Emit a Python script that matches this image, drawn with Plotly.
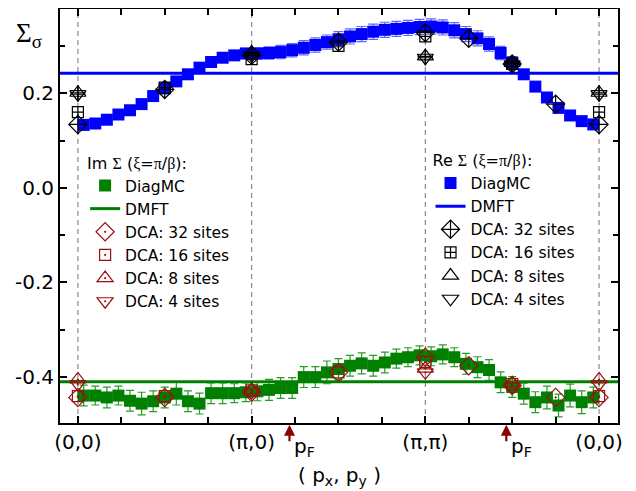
import plotly.graph_objects as go

# ---------------- data ----------------
path_ticks = [0, 1, 2, 3]
path_labels = ["(0,0)", "(\u03c0,0)", "(\u03c0,\u03c0)", "(0,0)"]

N_SEG = 15  # DiagMC momenta per path segment
diag_x = [s + (k - 0.5) / N_SEG for s in range(3) for k in range(1, N_SEG + 1)]

re_diag = [0.133, 0.136, 0.144, 0.155, 0.164, 0.177, 0.194, 0.210, 0.225, 0.240, 0.254, 0.266, 0.275, 0.280, 0.284,
           0.284, 0.285, 0.287, 0.291, 0.296, 0.302, 0.308, 0.314, 0.320, 0.325, 0.330, 0.334, 0.336, 0.338, 0.340,
           0.341, 0.339, 0.333, 0.325, 0.316, 0.304, 0.285, 0.265, 0.240, 0.214, 0.191, 0.169, 0.153, 0.141, 0.134]
re_diag_err = [0.003, 0.003, 0.003, 0.003, 0.004, 0.004, 0.005, 0.005, 0.006, 0.006, 0.007, 0.008, 0.009, 0.010, 0.011,
               0.012, 0.013, 0.014, 0.014, 0.015, 0.015, 0.015, 0.016, 0.016, 0.016, 0.016, 0.016, 0.016, 0.016, 0.016,
               0.016, 0.016, 0.016, 0.016, 0.016, 0.015, 0.014, 0.012, 0.010, 0.008, 0.006, 0.005, 0.004, 0.004, 0.003]

im_diag = [-0.439, -0.439, -0.443, -0.439, -0.450, -0.456, -0.451, -0.443, -0.435, -0.451, -0.456, -0.434, -0.434, -0.434, -0.432,
           -0.430, -0.427, -0.423, -0.423, -0.400, -0.400, -0.390, -0.383, -0.376, -0.371, -0.376, -0.369, -0.361, -0.358, -0.354,
           -0.356, -0.352, -0.358, -0.372, -0.379, -0.385, -0.411, -0.421, -0.435, -0.453, -0.443, -0.460, -0.439, -0.453, -0.443]
im_diag_err = [0.022, 0.020, 0.022, 0.020, 0.022, 0.024, 0.022, 0.022, 0.024, 0.022, 0.022, 0.022, 0.022, 0.020, 0.020,
               0.020, 0.022, 0.022, 0.022, 0.022, 0.022, 0.024, 0.022, 0.022, 0.022, 0.022, 0.022, 0.020, 0.020, 0.020,
               0.020, 0.020, 0.020, 0.022, 0.022, 0.022, 0.022, 0.022, 0.022, 0.022, 0.024, 0.024, 0.024, 0.024, 0.022]

re_dmft = 0.242
im_dmft = -0.410

dca32_x = [0, 0.5, 1, 1.5, 2, 2.25, 2.5, 2.75, 3]
dca16_x = [0, 0.5, 1, 1.5, 2, 2.5, 3]
dca8_x = [0, 1, 2, 2.5, 3]
dca4_x = [0, 1, 2, 2.5, 3]

re_dca32 = [0.134, 0.208, 0.280, 0.308, 0.328, 0.316, 0.262, 0.177, 0.134]
re_dca16 = [0.160, 0.212, 0.272, 0.300, 0.320, 0.262, 0.160]
re_dca8 = [0.201, 0.286, 0.278, 0.264, 0.201]
re_dca4 = [0.198, 0.280, 0.275, 0.261, 0.198]

im_dca32 = [-0.443, -0.443, -0.432, -0.390, -0.358, -0.376, -0.418, -0.443, -0.443]
im_dca16 = [-0.440, -0.440, -0.428, -0.390, -0.368, -0.415, -0.440]
im_dca8 = [-0.405, -0.428, -0.382, -0.413, -0.405]
im_dca4 = [-0.415, -0.432, -0.390, -0.420, -0.415]

pF_x = [1.218, 2.466]

# ---------------- style ----------------
X_RANGE = [-0.103, 3.109]
Y_RANGE = [-0.497, 0.378]
BLUE = "#0000ff"
GREEN = "#008000"
RED = "#9a1010"
FONT = "DejaVu Sans"
SERIF = "Liberation Serif"
LEG_SIZE = 15.5

fig = go.Figure()

# DMFT lines (drawn first, below squares)
fig.add_trace(go.Scatter(x=X_RANGE, y=[im_dmft, im_dmft], mode="lines", name="DMFT",
                         line=dict(color=GREEN, width=3), legend="legend", legendrank=2))
fig.add_trace(go.Scatter(x=X_RANGE, y=[re_dmft, re_dmft], mode="lines", name="DMFT",
                         line=dict(color=BLUE, width=3), legend="legend2", legendrank=2))

# DiagMC
fig.add_trace(go.Scatter(x=diag_x, y=im_diag, mode="markers", name="DiagMC",
                         marker=dict(symbol="square", size=12, color=GREEN),
                         error_y=dict(type="data", array=im_diag_err, color="rgba(0,140,0,0.85)",
                                      thickness=1.2, width=4),
                         legend="legend", legendrank=1))
fig.add_trace(go.Scatter(x=diag_x, y=re_diag, mode="markers", name="DiagMC",
                         marker=dict(symbol="square", size=12, color=BLUE),
                         error_y=dict(type="data", array=re_diag_err, color="rgba(60,60,255,0.8)",
                                      thickness=1.2, width=5),
                         legend="legend2", legendrank=1))

# DCA Im (red)
im_sets = [(dca32_x, im_dca32, "diamond-open-dot", 14, "DCA: 32 sites"),
           (dca16_x, im_dca16, "square-open-dot", 11, "DCA: 16 sites"),
           (dca8_x, im_dca8, "triangle-up-open-dot", 14, "DCA: 8 sites"),
           (dca4_x, im_dca4, "triangle-down-open-dot", 14, "DCA: 4 sites")]
for i, (xs, ys, sym, sz, nm) in enumerate(im_sets):
    fig.add_trace(go.Scatter(x=xs, y=ys, mode="markers", name=nm,
                             marker=dict(symbol=sym, size=sz, color=RED, line=dict(color=RED, width=1.2)),
                             legend="legend", legendrank=3 + i))

# DCA Re (black)
re_sets = [(dca32_x, re_dca32, "diamond-cross-open", 14, "DCA: 32 sites"),
           (dca16_x, re_dca16, "square-cross-open", 11, "DCA: 16 sites"),
           (dca8_x, re_dca8, "triangle-up-open", 14, "DCA: 8 sites"),
           (dca4_x, re_dca4, "triangle-down-open", 14, "DCA: 4 sites")]
for i, (xs, ys, sym, sz, nm) in enumerate(re_sets):
    fig.add_trace(go.Scatter(x=xs, y=ys, mode="markers", name=nm,
                             marker=dict(symbol=sym, size=sz, color="black", line=dict(color="black", width=1.2)),
                             legend="legend2", legendrank=3 + i))
# crosses inside the black triangles
for xs, ys in [(dca8_x, re_dca8), (dca4_x, re_dca4)]:
    fig.add_trace(go.Scatter(x=xs, y=ys, mode="markers", showlegend=False, hoverinfo="skip",
                             marker=dict(symbol="cross-thin-open", size=11, color="black",
                                         line=dict(color="black", width=1.2))))

# vertical dashed lines at symmetry points
for v in path_ticks:
    fig.add_shape(type="line", x0=v, x1=v, y0=0, y1=1, xref="x", yref="paper", layer="below",
                  line=dict(color="#8a8a8a", width=1.2, dash="5px,4px"))

annotations = []
# p_F arrows and labels
for px in pF_x:
    annotations.append(dict(x=px, xref="x", y=-0.004, yref="paper", text="", showarrow=True,
                            ax=0, ay=18, arrowhead=2, arrowsize=1, arrowwidth=2.2, arrowcolor="#8b0000"))
    annotations.append(dict(x=px, xref="x", y=-0.058, yref="paper", xanchor="left", yanchor="middle",
                            xshift=3, text="p<sub>F</sub>", showarrow=False,
                            font=dict(family=FONT, size=20, color="black")))
# axis titles
annotations.append(dict(x=0.5, xref="paper", y=-0.128, yref="paper", xanchor="center", yanchor="middle",
                        text="( p<sub>x</sub>, p<sub>y</sub> )", showarrow=False,
                        font=dict(family=FONT, size=20, color="black")))
annotations.append(dict(x=-0.082, xref="paper", y=0.983, yref="paper", xanchor="left", yanchor="top",
                        text="\u03a3<sub>\u03c3</sub>", showarrow=False,
                        font=dict(family=SERIF, size=27, color="black")))

greek = lambda s: '<span style="font-family:%s">%s</span>' % (SERIF, s)
im_title = "Im " + greek("\u03a3") + " (" + greek("\u03be") + "=" + greek("\u03c0") + "/" + greek("\u03b2") + "):"
re_title = "Re " + greek("\u03a3") + " (" + greek("\u03be") + "=" + greek("\u03c0") + "/" + greek("\u03b2") + "):"

legend_common = dict(bgcolor="rgba(0,0,0,0)", borderwidth=0, xanchor="left", yanchor="top",
                     font=dict(family=FONT, size=LEG_SIZE, color="black"), tracegroupgap=0,
                     traceorder="normal", itemsizing="trace")

# the page body has an 8px margin: the figure is shifted by (8, 8) in the window
fig.update_layout(
    width=628, height=483,
    margin=dict(l=52, r=18, t=1, b=68, autoexpand=False),
    plot_bgcolor="white", paper_bgcolor="white",
    font=dict(family=FONT, size=20, color="black"),
    showlegend=True,
    legend=dict(x=0.045, y=0.664, title=dict(text=im_title, font=dict(family=FONT, size=16)),
                **legend_common),
    legend2=dict(x=0.664, y=0.670, title=dict(text=re_title, font=dict(family=FONT, size=16)),
                 **legend_common),
    xaxis=dict(range=X_RANGE, tickmode="array", tickvals=path_ticks, ticktext=path_labels,
               ticks="inside", ticklen=7, tickwidth=1.5, tickcolor="black", automargin=False,
               showline=True, linewidth=2, linecolor="black", mirror="allticks",
               showgrid=False, zeroline=False, tickfont=dict(family=FONT, size=20),
               minor=dict(tickmode="linear", tick0=0, dtick=0.25, ticks="inside", ticklen=6,
                          tickwidth=1.5, tickcolor="black", showgrid=False)),
    yaxis=dict(range=Y_RANGE, tickmode="array", tickvals=[-0.4, -0.2, 0.0, 0.2],
               ticktext=["-0.4", "-0.2", "0.0", "0.2"], automargin=False,
               ticks="inside", ticklen=7, tickwidth=1.5, tickcolor="black",
               showline=True, linewidth=2, linecolor="black", mirror="allticks",
               showgrid=False, zeroline=False, tickfont=dict(family=FONT, size=20),
               minor=dict(tickmode="linear", tick0=0, dtick=0.1, ticks="inside", ticklen=5,
                          tickwidth=1.5, tickcolor="black", showgrid=False)),
    annotations=annotations,
)

fig.write_html("out.html")
